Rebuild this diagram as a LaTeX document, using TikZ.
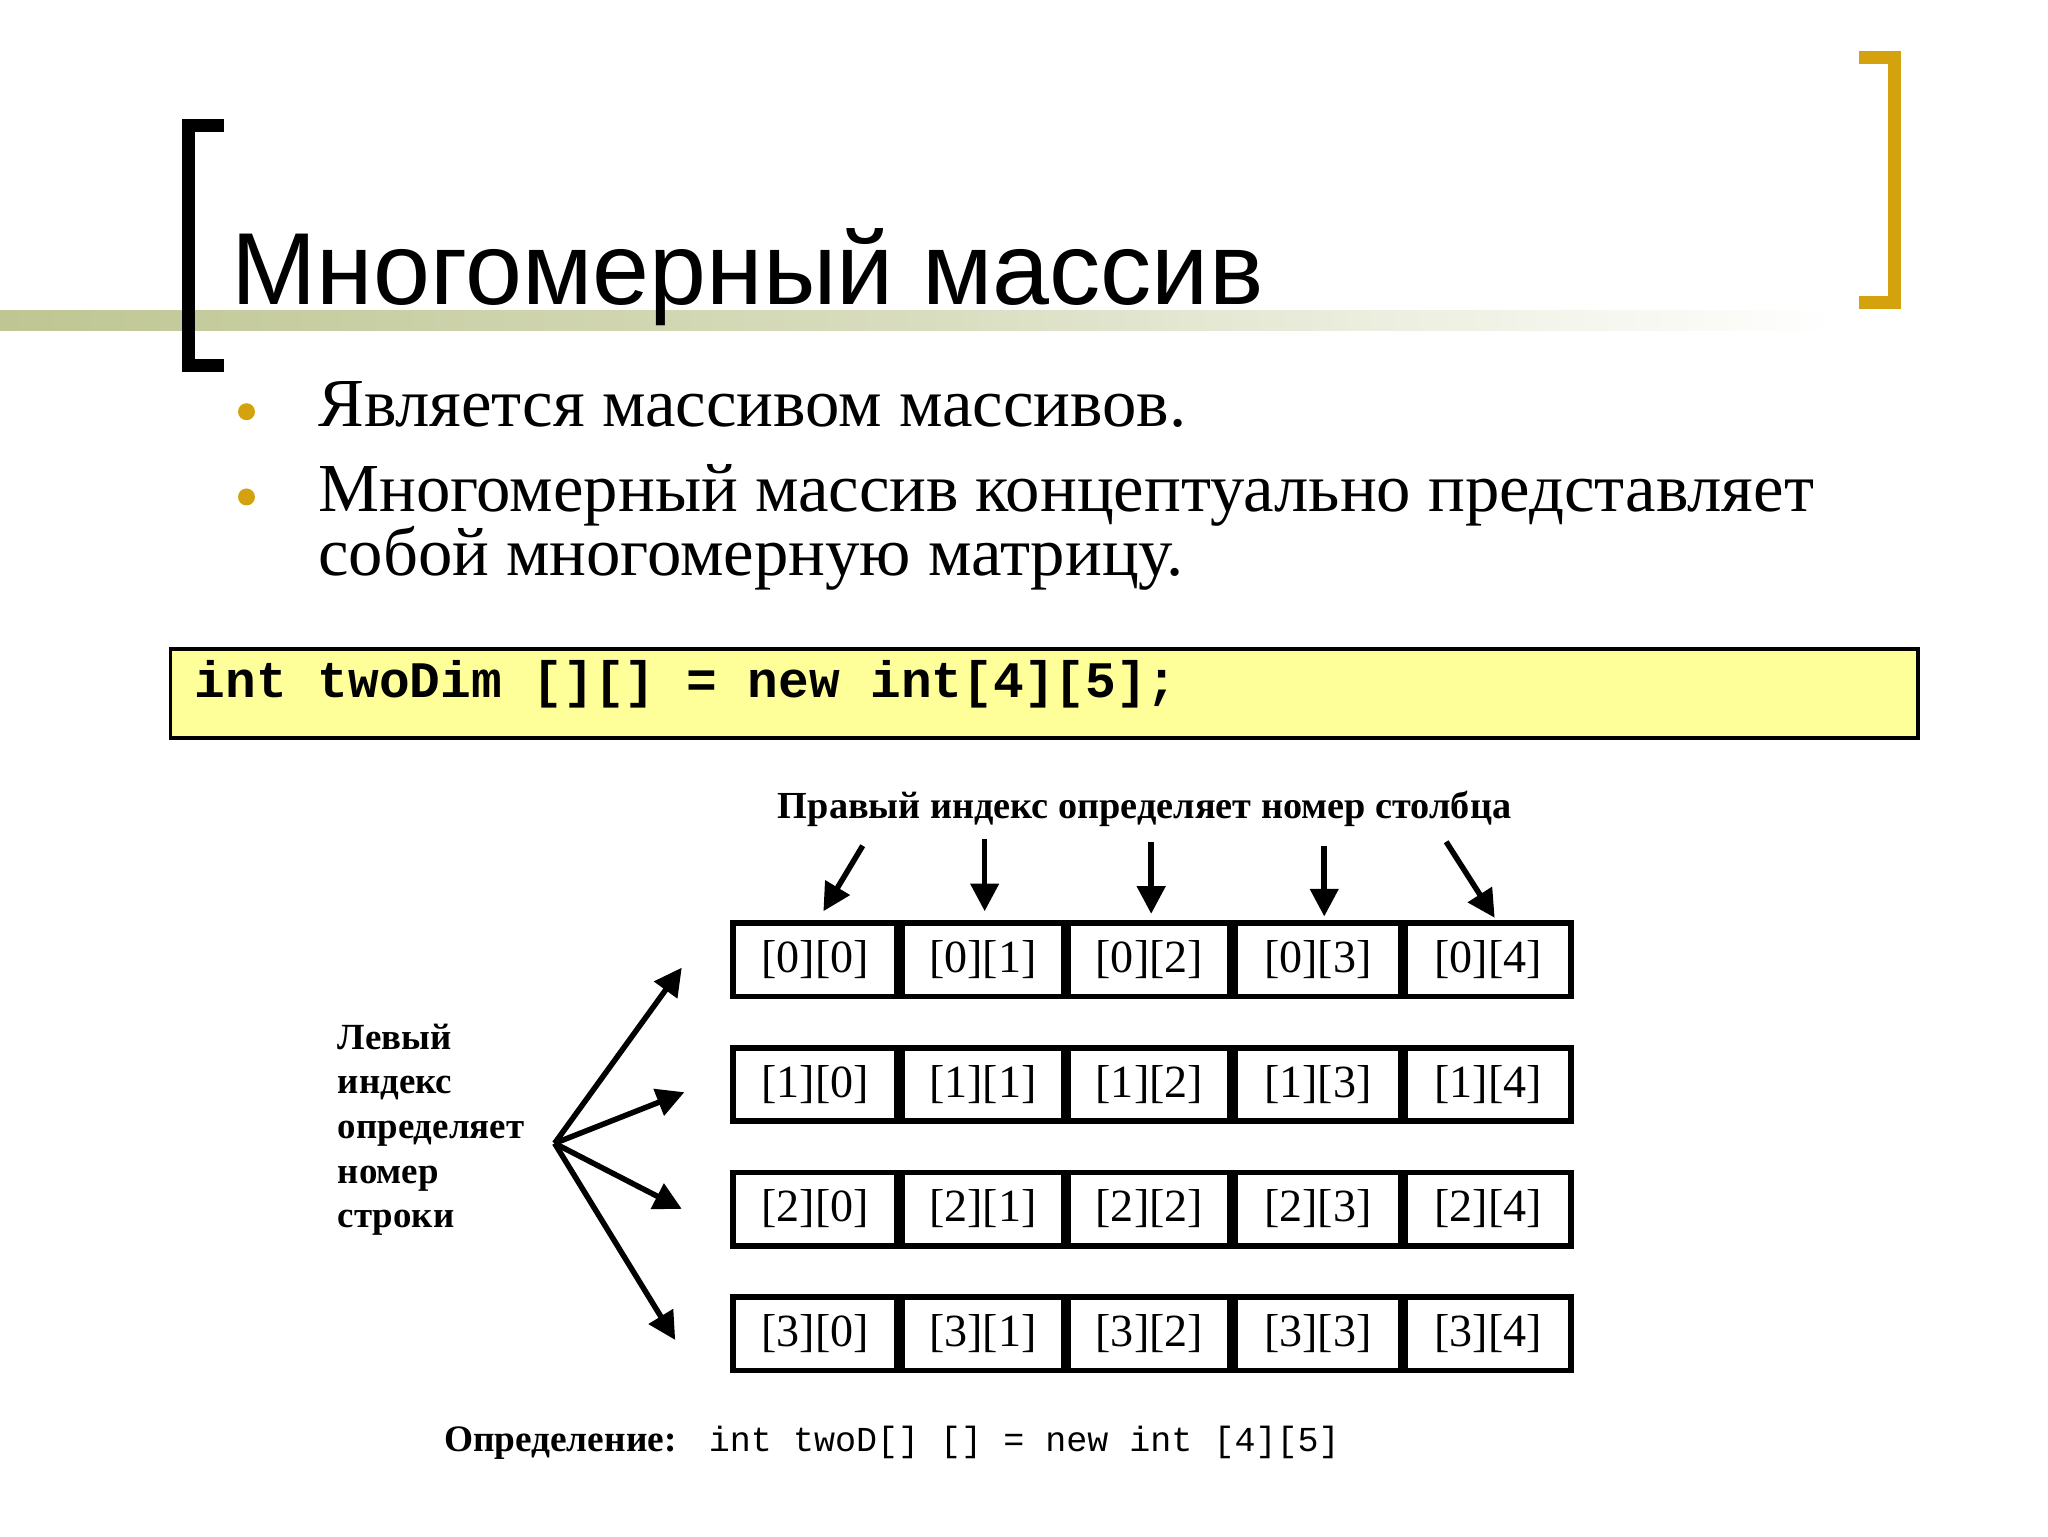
\documentclass[tikz,border=0pt]{standalone}
\usepackage{fontspec}
\setmainfont{Liberation Serif}
\newfontfamily\titlefont{Liberation Sans}
\newfontfamily\codefont{Liberation Mono}
\usetikzlibrary{arrows.meta}
\definecolor{gold}{HTML}{D4A20F}
\definecolor{olive}{HTML}{BFC693}
\definecolor{codey}{HTML}{FFFF99}
\tikzset{
 cell/.style={draw,line width=1.2pt,minimum height=0.56cm,inner sep=0pt,font=\fontsize{10}{12}\selectfont,anchor=north west},
 arr/.style={-{Triangle[length=6pt,width=6pt]},line width=1.2pt},
 bul/.style={fill=gold,circle,inner sep=1.3pt}
}
\begin{document}
\begin{tikzpicture}[x=0.01cm,y=-0.01cm]
\useasboundingbox (0,0) rectangle (1562,1172);
\fill[white] (0,0) rectangle (1562,1172);
% band
\shade[left color=olive,right color=white,middle color=olive!60] (0,237) rectangle (1400,252);
% brackets
\draw[line width=2.8pt,line cap=butt] (171,96) -- (144,96) -- (144,279) -- (171,279);
\draw[gold,line width=2.8pt] (1418,44) -- (1445,44) -- (1445,231) -- (1418,231);
\node[anchor=base west,inner sep=0pt,font=\titlefont\fontsize{22.2}{24}\selectfont] (title) at (176,232) {Многомерный массив};
% bullets
\node[bul] (b1) at (188,314) {};
\node[bul] (b2) at (188,379) {};
\node[anchor=base west,inner sep=0pt,font=\fontsize{14.9}{18}\selectfont] (t1) at (242,325) {Является массивом массивов.};
\node[anchor=base west,inner sep=0pt,font=\fontsize{14.9}{18}\selectfont] (t2) at (242,390) {Многомерный массив концептуально представляет};
\node[anchor=base west,inner sep=0pt,font=\fontsize{14.9}{18}\selectfont] (t3) at (242,439) {собой многомерную матрицу.};
% code box
\draw[fill=codey,line width=0.8pt] (130,495) rectangle (1463,563);
\node[anchor=base west,inner sep=0pt,font=\codefont\bfseries\fontsize{11.1}{12}\selectfont] (code) at (148,532) {int twoDim [][] = new int[4][5];};
% grid
\foreach \r/\y in {0/702,1/797,2/892,3/987}{
 \foreach \c/\x/\w in {0/557/1.25,1/686/1.23,2/813/1.23,3/940/1.26,4/1070/1.26}{
  \node[cell,minimum width=\w cm] (c\r\c) at (\x,\y) {[\r][\c]};
 }
}
\node[font=\bfseries\fontsize{8.3}{10}\selectfont,inner sep=0pt] (top) at (873,617) {Правый индекс определяет номер столбца};
\coordinate (s0) at (658,645); \coordinate (s1) at (751,640); \coordinate (s2) at (878,642);
\coordinate (s3) at (1010,645); \coordinate (s4) at (1103,642);
\coordinate (e0) at (628,695);
\draw[arr] (s0) -- (e0);
\draw[arr] (s1) -- (751,695);
\draw[arr] (s2) -- (878,697);
\draw[arr] (s3) -- (1010,699);
\draw[arr] (s4) -- (1140,700);
% left
\node[anchor=north west,align=left,inner sep=0pt,font=\bfseries\fontsize{8}{9.7}\selectfont] (left) at (257,780) {Левый\\индекс\\определяет\\номер\\строки};
\coordinate (src) at (423,872);
\draw[arr] (src) -- (520,738);
\draw[arr] (src) -- (522,833);
\draw[arr] (src) -- (520,922);
\draw[arr] (src) -- (515,1022);
% bottom
\node[anchor=base west,inner sep=0pt,font=\bfseries\fontsize{8.1}{10}\selectfont] (def) at (338,1107) {Определение:};
\node[anchor=base west,inner sep=0pt,font=\codefont\fontsize{7.6}{10}\selectfont] (defc) at (540,1107) {int twoD[] [] = new int [4][5]};
\end{tikzpicture}
\end{document}
